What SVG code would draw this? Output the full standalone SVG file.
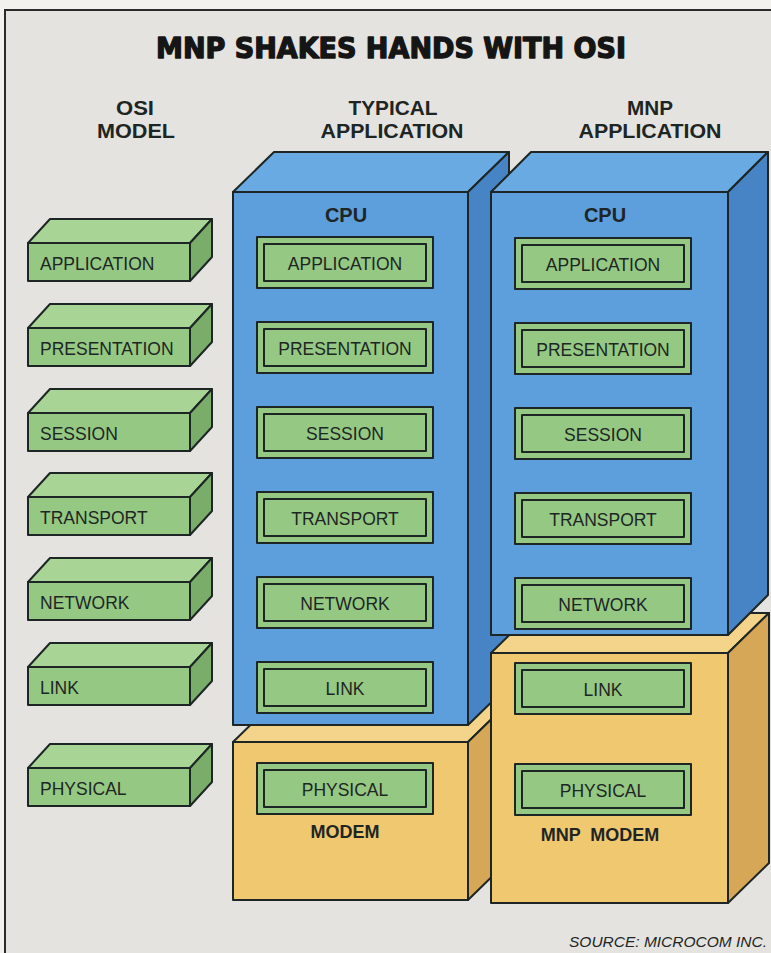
<svg xmlns="http://www.w3.org/2000/svg" width="771" height="953" viewBox="0 0 771 953">
<style>
.ln{stroke:#1d2624;stroke-width:2;stroke-linejoin:round}
.gf{fill:#95c983}.gt{fill:#a8d595}.gs{fill:#79ad69}
.bf{fill:#5d9fdc}.bt{fill:#6aaae2}.bs{fill:#4684c6}
.yf{fill:#f0c870}.yt{fill:#f4d38a}.ys{fill:#d5a757}
.lbl{font-family:"Liberation Sans",Arial,sans-serif;font-size:17.5px;fill:#1d2624}
.cl{text-anchor:middle}
.hd{font-family:"Liberation Sans",Arial,sans-serif;font-weight:bold;font-size:20px;fill:#1d2624;text-anchor:middle}
.bd{font-family:"Liberation Sans",Arial,sans-serif;font-weight:bold;fill:#1d2624;text-anchor:middle}
</style>
<defs>
<g id="bar">
<polygon class="ln gt" points="0,0 22,-24 184,-24 162,0"/>
<polygon class="ln gs" points="162,0 184,-24 184,14 162,38"/>
<rect class="ln gf" x="0" y="0" width="162" height="38"/>
</g>
<g id="layer">
<rect class="ln gf" x="0" y="0" width="176" height="51"/>
<rect class="ln gf" x="7" y="7" width="162" height="37"/>
</g>
</defs>
<rect x="0" y="0" width="771" height="953" fill="#f2f1ee"/>
<rect x="5" y="10" width="780" height="960" fill="#e5e3df" stroke="#2a2a2a" stroke-width="2"/>
<text x="391" y="58" font-family="'DejaVu Sans',sans-serif" font-weight="bold" font-size="28" fill="#151515" stroke="#151515" stroke-width="1.4" stroke-linejoin="round" text-anchor="middle" textLength="470" lengthAdjust="spacingAndGlyphs">MNP SHAKES HANDS WITH OSI</text>
<g id="headers">
<text class="hd" x="135" y="115" textLength="38" lengthAdjust="spacingAndGlyphs">OSI</text>
<text class="hd" x="136" y="138" textLength="78" lengthAdjust="spacingAndGlyphs">MODEL</text>
<text class="hd" x="393" y="115" textLength="89" lengthAdjust="spacingAndGlyphs">TYPICAL</text>
<text class="hd" x="392" y="138" textLength="143" lengthAdjust="spacingAndGlyphs">APPLICATION</text>
<text class="hd" x="650" y="115" textLength="46" lengthAdjust="spacingAndGlyphs">MNP</text>
<text class="hd" x="650" y="138" textLength="143" lengthAdjust="spacingAndGlyphs">APPLICATION</text>
</g>
<g id="osi-model">
<g id="osi-application"><use href="#bar" x="28" y="243"/><text class="lbl" x="40" y="270">APPLICATION</text></g>
<g id="osi-presentation"><use href="#bar" x="28" y="328"/><text class="lbl" x="40" y="355">PRESENTATION</text></g>
<g id="osi-session"><use href="#bar" x="28" y="413"/><text class="lbl" x="40" y="440">SESSION</text></g>
<g id="osi-transport"><use href="#bar" x="28" y="497"/><text class="lbl" x="40" y="524">TRANSPORT</text></g>
<g id="osi-network"><use href="#bar" x="28" y="582"/><text class="lbl" x="40" y="609">NETWORK</text></g>
<g id="osi-link"><use href="#bar" x="28" y="667"/><text class="lbl" x="40" y="694">LINK</text></g>
<g id="osi-physical"><use href="#bar" x="28" y="768"/><text class="lbl" x="40" y="795">PHYSICAL</text></g>
</g>
<g id="typical-modem">
<polygon class="ln yt" points="233,742 274,702 509,702 468,742"/>
<polygon class="ln ys" points="468,742 509,702 509,860 468,900"/>
<rect class="ln yf" x="233" y="742" width="235" height="158"/>
<text class="bd" x="345" y="838" font-size="18">MODEM</text>
</g>
<g id="typical-cpu">
<polygon class="ln bt" points="233,192 274,152 509,152 468,192"/>
<polygon class="ln bs" points="468,192 509,152 509,685 468,725"/>
<rect class="ln bf" x="233" y="192" width="235" height="533"/>
<text class="bd" x="346" y="222" font-size="20">CPU</text>
</g>
<g id="typical-layers">
<g id="typ-application"><use href="#layer" x="257" y="237"/><text class="lbl cl" x="345" y="270">APPLICATION</text></g>
<g id="typ-presentation"><use href="#layer" x="257" y="322"/><text class="lbl cl" x="345" y="355">PRESENTATION</text></g>
<g id="typ-session"><use href="#layer" x="257" y="407"/><text class="lbl cl" x="345" y="440">SESSION</text></g>
<g id="typ-transport"><use href="#layer" x="257" y="492"/><text class="lbl cl" x="345" y="525">TRANSPORT</text></g>
<g id="typ-network"><use href="#layer" x="257" y="577"/><text class="lbl cl" x="345" y="610">NETWORK</text></g>
<g id="typ-link"><use href="#layer" x="257" y="662"/><text class="lbl cl" x="345" y="695">LINK</text></g>
<g id="typ-physical"><use href="#layer" x="257" y="763"/><text class="lbl cl" x="345" y="796">PHYSICAL</text></g>
</g>
<g id="mnp-modem">
<polygon class="ln yt" points="491,653 532,613 769,613 728,653"/>
<polygon class="ln ys" points="728,653 769,613 769,863 728,903"/>
<rect class="ln yf" x="491" y="653" width="237" height="250"/>
<text class="bd" x="600" y="841" font-size="18" xml:space="preserve">MNP  MODEM</text>
</g>
<g id="mnp-cpu">
<polygon class="ln bt" points="491,192 531,152 768,152 728,192"/>
<polygon class="ln bs" points="728,192 768,152 768,595 728,635"/>
<rect class="ln bf" x="491" y="192" width="237" height="443"/>
<text class="bd" x="605" y="222" font-size="20">CPU</text>
</g>
<g id="mnp-layers">
<g id="mnp-application"><use href="#layer" x="515" y="238"/><text class="lbl cl" x="603" y="271">APPLICATION</text></g>
<g id="mnp-presentation"><use href="#layer" x="515" y="323"/><text class="lbl cl" x="603" y="356">PRESENTATION</text></g>
<g id="mnp-session"><use href="#layer" x="515" y="408"/><text class="lbl cl" x="603" y="441">SESSION</text></g>
<g id="mnp-transport"><use href="#layer" x="515" y="493"/><text class="lbl cl" x="603" y="526">TRANSPORT</text></g>
<g id="mnp-network"><use href="#layer" x="515" y="578"/><text class="lbl cl" x="603" y="611">NETWORK</text></g>
<g id="mnp-link"><use href="#layer" x="515" y="663"/><text class="lbl cl" x="603" y="696">LINK</text></g>
<g id="mnp-physical"><use href="#layer" x="515" y="764"/><text class="lbl cl" x="603" y="797">PHYSICAL</text></g>
</g>
<g id="connectors"/>
<text x="767" y="947" font-family="'Liberation Sans',Arial,sans-serif" font-style="italic" font-size="14" fill="#1d2624" text-anchor="end" textLength="198" lengthAdjust="spacingAndGlyphs">SOURCE: MICROCOM INC.</text>
</svg>
